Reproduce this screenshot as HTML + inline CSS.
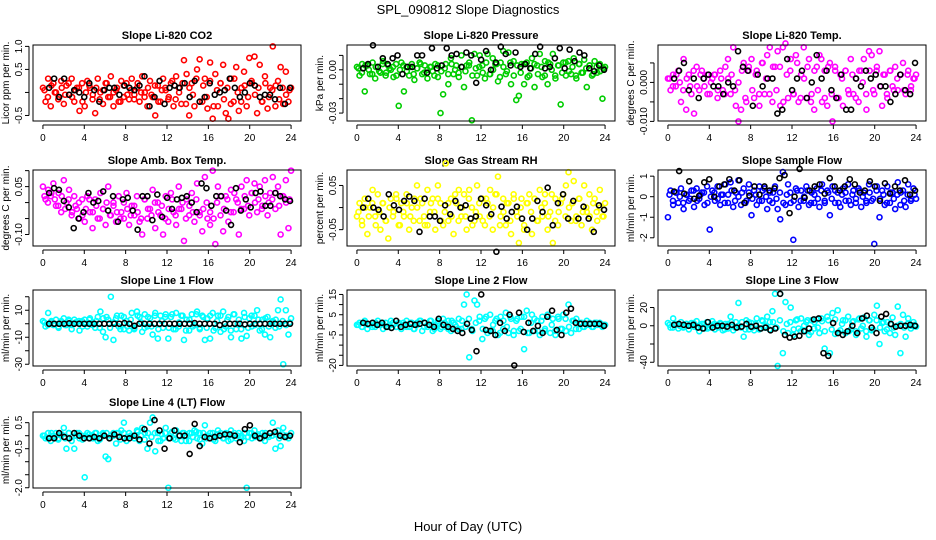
<!DOCTYPE html>
<html><head><meta charset="utf-8"><style>
html,body{margin:0;padding:0;background:#fff;}
svg{display:block;font-family:"Liberation Sans",sans-serif;}
</style></head><body>
<svg id="chart" width="936" height="540" viewBox="0 0 936 540">
<text x="468" y="14" font-size="13" text-anchor="middle">SPL_090812  Slope Diagnostics</text>
<text x="468" y="531" font-size="13" text-anchor="middle">Hour of Day (UTC)</text>
</svg>
<script>
const xTicks = [0,4,8,12,16,20,24];
const titles = ["Slope Li-820 CO2","Slope Li-820 Pressure","Slope Li-820 Temp.","Slope Amb. Box Temp.","Slope Gas Stream RH","Slope Sample Flow","Slope Line 1 Flow","Slope Line 2 Flow","Slope Line 3 Flow","Slope Line 4 (LT) Flow"];
const yLabels = ["Licor ppm per min.","kPa per min.","degrees C per min.","degrees C per min.","percent per min.","ml/min per min.","ml/min per min.","ml/min per min.","ml/min per min.","ml/min per min."];
const yTicks = [[-0.5,0,0.5,1.0],[-0.03,-0.02,-0.01,0,0.01],[-0.01,-0.005,0,0.005],[-0.1,-0.05,0,0.05,0.1],[-0.05,0,0.05],[-2,-1,0,1],[-30,-20,-10,0,10,20],[-20,-15,-10,-5,0,5,10,15],[-40,-20,0,20],[-2,-1.5,-1,-0.5,0,0.5]];
const yTickLabels = [["-0.5","","0.5","1.0"],["-0.03","","","0.00",""],["-0.010","","0.000",""],["-0.10","","","0.05",""],["-0.05","","0.05"],["-2","-1","0","1"],["-30","","-10","","10",""],["-20","","","-5","","5","","15"],["-40","","0","20"],["-2.0","","","-0.5","","0.5"]];
const yLims = [[-0.62,1.03],[-0.0355,0.0172],[-0.0099,0.0096],[-0.136,0.102],[-0.087,0.085],[-2.4,1.3],[-31.3,25],[-20.3,17.2],[-44.1,39.2],[-2.01,0.91]];
const colors = ["#ff0000","#00cd00","#ff00ff","#ff00ff","#ffff00","#0000ff","#00ffff","#00ffff","#00ffff","#00ffff"];

const co2 = [0.1,-0.2,0.3,-0.3,0.2,0,-0.1,0.25,-0.25,0.15,-0.05,0.3,-0.2,0.1,-0.4,0.2,-0.3,0.25,0.1,-0.15,-0.45,0.3,0,-0.25,0.2,-0.1,0.35,-0.3,0.05,-0.2,0.25,-0.1,0.2,-0.15,0.3,-0.05,0.1,-0.2,0.35,0,-0.3,0.25,-0.1,-0.5,0.15,-0.2,0.3,0.05,-0.15,0.2,-0.3,0.35,0.1,-0.25,0.7,0.4,-0.5,0.2,-0.3,0.5,0.72,-0.2,0.3,-0.35,0.65,-0.57,0.4,-0.3,0.2,0.6,-0.45,-0.57,0.3,-0.2,0.55,-0.4,0.1,0.45,-0.3,0.75,0.2,0.78,-0.45,0.6,-0.2,0.35,-0.35,0.1,1.0,-0.3,0.25,0.55,-0.25,0.45,-0.2,0.1];
const co2B = [0.05,-0.1,0.15,0,-0.15,0.1,-0.05,0.2,-0.1,0.05,0.1,-0.2,0,0.15,-0.05,0.1,-0.15,0.05,0.2,-0.1,0,0.1,-0.2,0.15,-0.05,0.05,-0.15,0.2,0,-0.1,0.1,-0.05,0.15,-0.2,0.05,0.1,-0.1,0.25,-0.15,0,0.2,-0.25,0.1,-0.05,0.3,-0.2,0.15,-0.1,0.25,-0.3,0.05,0.2,-0.15,0.1,-0.25,0.3,0,-0.2,0.15,-0.1,0.25,-0.05,0.1,-0.2,0.2,-0.1,0.05,0.15,-0.15,0.1,-0.05,0.05];
const co2Ref = [0.1,0.3,-0.1,0.3,-0.05,0.05,0,-0.1,0.2,0.05,-0.2,0.05,0.1,0.1,-0.05,0.15,0.1,0.05,0.15,0.35,-0.3,-0.1,0.25,-0.25,0.1,0.15,0.1,0.2,-0.1,0.25,-0.2,-0.1,0.2,-0.05,0,0.05,0.3,0.1,-0.1,0,0.2,0.15,-0.1,-0.05,-0.05,-0.15,0.1,-0.25,0.1];
const pres = [0.002,-0.004,0.004,-0.015,0.003,-0.003,0.005,-0.006,0.002,-0.002,0.006,-0.004,0.003,0,-0.005,0.004,-0.025,0.005,-0.015,0.002,-0.004,0.004,-0.007,0.001,0.005,-0.003,0.003,-0.006,0.002,-0.001,0.004,-0.005,-0.03,-0.017,0.004,-0.01,0.008,-0.003,0.003,-0.005,0.01,-0.012,0.003,0.005,-0.035,0.011,-0.004,0.01,0.003,-0.006,0.011,-0.003,0.008,0.004,-0.008,0.005,0.013,-0.003,0.012,-0.01,0.006,-0.021,-0.018,0.004,-0.01,0.005,-0.004,0.008,-0.012,0.003,0.011,-0.005,0.006,-0.01,0.004,0.011,-0.006,0.003,-0.024,0.005,-0.004,0.006,-0.003,0.008,-0.006,0.004,-0.002,0.007,-0.012,0.003,-0.004,0.006,-0.002,0.004,-0.02,0.002];
const presB = [0.001,-0.002,0.003,0,-0.003,0.002,-0.001,0.004,-0.002,0.001,0.002,-0.004,0,0.003,-0.001,0.002,-0.003,0.001,0.004,-0.002,0,0.002,-0.004,0.003,-0.001,0.001,-0.003,0.004,0,-0.002,0.002,-0.001,0.003,-0.004,0.001,0.002,-0.002,0.005,-0.003,0,0.004,-0.005,0.002,-0.001,0.005,-0.004,0.003,-0.002,0.004,-0.005,0.001,0.004,-0.003,0.002,-0.004,0.005,0,-0.004,0.003,-0.002,0.005,-0.001,0.002,-0.004,0.004,-0.002,0.001,0.003,-0.003,0.002,-0.001,0.001];
const presRef = [0.001,0.004,0.017,0.002,0.008,0.004,0.008,0.01,-0.003,0.002,0.002,0.01,0.01,-0.002,0.015,0.001,0.003,0.015,0.01,0.011,0.002,0.012,0.01,-0.009,0.007,0.013,0.0,0.005,0.016,0.011,0.003,0.012,0.002,0.004,0.001,0.011,0.016,0.001,0.002,0.008,0.015,0.001,0.014,0.006,0.012,0.01,0.001,-0.001,0.003,0.0];
const ltemp = [0.001,-0.002,0.002,-0.001,0.003,-0.005,0.006,-0.007,0.002,-0.003,-0.008,0.004,-0.002,0.003,-0.001,0.002,-0.003,0.001,0.002,-0.004,0.003,-0.002,0.004,0.006,-0.003,0.009,-0.006,-0.01,-0.007,0.005,-0.005,0.003,0.006,-0.004,0.003,-0.006,0.005,-0.003,0.007,0.009,-0.005,0.004,0.008,-0.006,0.009,0.01,-0.004,0.006,-0.003,0.007,-0.005,0.002,0.009,-0.004,0.006,-0.003,-0.007,0.004,0.007,-0.005,0.003,-0.006,0.005,-0.01,0.004,-0.004,0.002,-0.006,0.003,-0.002,0.006,-0.003,0.001,-0.005,0.003,0.006,-0.007,0.008,0.007,-0.003,0.004,0.008,-0.006,0.002,-0.004,0.003,-0.001,0.004,-0.002,0.002,0.005,-0.003,0.003,-0.002,0.001,0.002];
const ltempB = [0.001,-0.001,0.002,0,-0.002,0.001,-0.001,0.003,-0.001,0.002,0.001,-0.003,0,0.002,-0.002,0.001,-0.003,0.001,0.002,-0.002,0,0.003,-0.004,0.004,-0.002,0.002,-0.003,0.005,0.001,-0.003,0.004,-0.002,0.004,-0.005,0.002,0.003,-0.003,0.005,-0.004,0.001,0.004,-0.005,0.003,-0.002,0.006,-0.004,0.004,-0.003,0.003,-0.004,0.001,0.003,-0.003,0.002,-0.004,0.003,0,-0.003,0.003,-0.002,0.003,-0.001,0.002,-0.003,0.003,-0.002,0.001,0.002,-0.002,0.002,-0.001,0.001];
const ltempRef = [0.001,0.003,0.005,-0.002,0.001,-0.004,0.001,0.002,-0.001,-0.001,-0.003,0.0,-0.001,0.008,0.004,0.003,-0.006,0.002,-0.001,0.001,0.001,-0.008,-0.007,0.006,-0.002,0.001,0.003,-0.004,0.0,0.007,0.001,0.003,-0.002,-0.004,0.002,-0.007,-0.007,0.001,-0.001,0.003,0.001,0.002,-0.001,-0.001,-0.005,-0.003,0.002,-0.002,-0.003,0.005];
const amb = [0.05,0.01,0.04,0.02,0.06,-0.01,0.03,-0.03,0.07,0,0.04,-0.04,0.02,-0.02,-0.05,0.01,-0.06,0.02,-0.03,-0.08,0.01,-0.05,0.03,-0.02,-0.07,0.05,-0.04,0,-0.06,0.02,-0.03,-0.05,0.03,-0.07,-0.01,-0.04,0.02,-0.06,-0.1,0.01,-0.05,-0.02,0.04,-0.08,0,-0.04,-0.1,0.02,-0.06,0.03,-0.03,-0.07,0.05,-0.02,-0.12,0.01,-0.04,0.03,-0.06,0.06,-0.03,-0.09,0.08,-0.05,-0.07,0.1,-0.13,0.05,-0.04,-0.09,0.02,-0.06,0.04,-0.03,0.01,-0.1,0.05,-0.02,0.07,-0.04,0.03,0.06,-0.03,0.05,-0.01,0.07,-0.04,0.03,0.08,-0.02,0.05,-0.1,0.02,0.07,-0.08,0.1];
const ambB = [0.02,0,0.03,0.01,-0.01,0.02,-0.02,0.01,-0.03,-0.01,0,-0.04,-0.02,0.01,-0.03,-0.01,-0.05,-0.02,0,-0.04,-0.01,-0.03,-0.05,0,-0.02,-0.04,-0.01,-0.03,-0.05,0.01,-0.02,-0.04,0,-0.03,-0.01,-0.05,-0.02,0.01,-0.04,-0.02,0,-0.05,-0.01,-0.03,0.01,-0.04,-0.02,0,-0.03,-0.05,0,0.02,-0.02,0.01,-0.03,0.03,0,-0.02,0.02,-0.01,0.03,0,0.01,-0.02,0.02,0,0.01,0.03,-0.01,0.02,0,0.01];
const ambRef = [0.03,0.045,0.04,0.005,-0.015,-0.08,-0.05,-0.03,0.03,0,0.005,0.035,-0.025,0.02,-0.06,0.01,0.015,-0.025,-0.085,0.02,0.02,-0.055,0.025,-0.045,0.015,-0.02,0.01,0.015,0.02,0,-0.03,0.06,0.045,-0.01,0.02,0.02,-0.025,-0.07,0.045,-0.025,0.01,-0.015,0.03,0.035,-0.01,-0.01,0.03,0.02,0.01,0.005];
const rh = [-0.02,0.01,-0.04,0.02,-0.06,0,0.04,-0.02,0.03,-0.05,0.01,-0.03,-0.07,0.02,-0.01,0.03,-0.04,0.01,-0.02,0.03,-0.05,0,0.02,0.05,-0.03,0.01,-0.04,0.04,-0.01,0.02,-0.05,0.05,0.01,-0.04,0.1,-0.03,0.02,-0.06,0.01,0.04,-0.02,0.03,-0.05,0.04,0,-0.03,0.05,-0.02,0.02,-0.04,0.01,0.04,-0.05,0.03,0.07,-0.02,0.02,-0.04,0.01,-0.06,0.03,-0.01,-0.08,0.02,-0.05,0.01,0.03,-0.06,0.02,-0.03,0.04,-0.02,0.03,-0.05,-0.01,-0.08,0.02,-0.04,0.01,0.03,0.05,0.08,-0.03,0.06,-0.02,0.02,-0.04,0.05,-0.01,0.03,-0.05,0.02,-0.03,0.04,-0.02,0.01];
const rhB = [-0.01,-0.03,0,-0.02,0.01,-0.04,-0.01,0.01,-0.03,0,-0.02,0.02,-0.04,-0.01,0.01,-0.02,-0.03,0,0.02,-0.02,-0.04,0.01,-0.01,0.02,-0.03,-0.01,0.01,-0.02,0.03,-0.03,0,-0.02,0.02,-0.04,-0.01,0.01,-0.03,0.02,-0.02,0,0.03,-0.04,-0.01,0.01,-0.03,0.02,-0.02,0,-0.04,0.01,-0.01,0.02,-0.03,0,0.01,-0.02,0.03,-0.03,-0.01,0.02,-0.02,0,0.01,-0.03,0.02,-0.01,0,-0.02,0.01,-0.01,0,-0.02];
const rhRef = [0,0.02,0,-0.005,-0.02,0.03,0.005,-0.005,0.015,0.025,0.015,-0.055,0.02,-0.02,-0.02,-0.03,0.005,-0.015,0.015,0,0.005,-0.025,-0.02,0.02,0.005,-0.015,-0.1,0.002,-0.025,-0.01,0.002,-0.025,-0.05,-0.025,0.015,-0.01,0.045,-0.04,0.01,0.03,-0.025,0.015,-0.025,0.002,-0.025,-0.055,0.005,-0.005];
const sflow = [-1,0.3,-0.4,0.2,-0.3,0.4,-0.6,0.1,-0.2,0.3,-0.5,0.4,-0.1,0.2,-0.4,0.5,-1.6,0.3,-0.2,0.5,-0.4,0.1,0.6,-0.3,0.7,-0.5,0.2,0.8,-0.4,0.4,-0.2,0.6,-0.9,0.3,-0.4,0.5,-0.2,0.4,-0.6,0.2,-0.3,0.5,-0.6,-1.1,1.2,-0.4,0.6,-0.3,-2.1,0.4,-0.5,0.3,-0.2,0.5,-0.4,0.2,-0.3,0.4,-0.5,0.6,-0.2,0.3,-0.9,0.5,-0.3,0.2,-0.5,0.4,-0.2,0.6,-0.4,0.3,-0.1,0.4,-0.5,0.2,-0.3,0.6,-0.2,-2.3,0.5,-1.0,0.3,-0.4,0.5,-0.3,0.2,-0.6,0.7,-0.4,0.3,-0.5,0.6,-0.2,0.4,-0.1];
const sflowB = [0.1,-0.2,0.2,0,-0.3,0.1,-0.1,0.3,-0.2,0.1,0.2,-0.3,0,0.2,-0.1,0.1,-0.3,0.1,0.3,-0.2,0,0.2,-0.3,0.2,-0.1,0.1,-0.2,0.3,0,-0.2,0.2,-0.1,0.2,-0.3,0.1,0.2,-0.2,0.3,-0.2,0,0.3,-0.3,0.1,-0.1,0.3,-0.3,0.2,-0.1,0.3,-0.3,0.1,0.2,-0.2,0.1,-0.3,0.3,0,-0.2,0.2,-0.1,0.3,-0.1,0.1,-0.3,0.2,-0.1,0.1,0.2,-0.2,0.1,-0.1,0.1];
const sflowRef = [0.25,1.25,0.15,0.75,-0.1,0.05,0.7,0.85,0,0.5,0.6,0.85,0.3,0.8,-0.3,0.05,0.5,0.1,0.5,0.3,0.4,0.9,1.05,-0.8,0,1.35,-0.05,0.3,0.5,0.6,0.15,0.9,0.5,0.3,0.5,0.85,0.6,0.2,0.3,0.75,0.5,-0.2,0.65,0.15,0.5,0.3,0.8,0.1,0.3];
const line1 = [2,-2,8,1,-1,3,-3,2,4,-1,2,-4,3,1,-5,2,3,-2,4,1,-3,5,9,-6,-10,3,20,-12,4,-2,6,-4,2,-5,8,-3,9,5,-6,7,-2,4,-8,8,-11,6,-3,7,-11,5,-4,8,-2,6,-12,3,-5,7,-1,9,-3,6,-12,4,-11,8,-3,6,-6,9,-2,5,-10,7,-4,3,-11,8,-9,4,-2,6,10,-5,3,-8,5,-10,2,-3,10,18,-30,10,-8,4];
const line1B = [1,-1,2,0,-2,1,-1,3,-1,1,2,-2,0,3,-1,2,-3,4,5,-3,1,6,-4,5,-2,3,-4,6,1,-3,5,-2,6,-4,2,5,-3,7,-4,1,6,-5,3,-2,7,-4,5,-3,6,-5,2,6,-4,3,-5,7,0,-4,5,-3,6,-1,3,-4,4,-2,1,3,-2,2,-1,1];
const line1Ref = [0,0,0,0,0.3,0,0,0,0,0,0,0,0,0,0,0.5,0,-1.5,0,0,0,0,0,0,0,0,0,0,0,0.5,0,0,0,0,-1,0,0,0,0,-0.5,0,0,0,0,0,0,0,0,0];
const line2 = [0,1,-1,2,-2,0,1,-1,2,0,-2,1,-1,2,0,-1,1,-2,0,2,-1,1,-2,0,2,-3,1,-1,2,-3,0,1,-2,3,-1,2,-3,1,-1,3,-2,10,15,-16,-2,12,10,4,-7,3,-4,5,-3,2,-5,4,-2,6,-4,3,-5,2,-3,4,-12,7,-4,5,-3,2,-5,4,-2,5,-4,3,-5,4,-2,5,-3,10,-4,2,3,-2,1,-1,2,0,-1,1,0,1,-1,0];
const line2B = [0,-1,1,0,-1,1,0,1,-1,0,1,-1,0,1,-1,1,-2,1,2,-1,0,2,-2,2,-1,1,-2,2,0,-2,2,-1,3,-3,1,2,-2,4,-3,0,3,-4,2,-1,4,-3,3,-2,4,-4,1,3,-3,2,-3,4,0,-3,3,-2,3,-1,2,-2,1,-1,0,1,-1,1,0,0];
const line2Ref = [1,0.5,1,0,1,-1,-1.5,2,-1,0,0.5,0,0.5,1,0,-1,3,0,-1,-2,-3,-4,0.5,-2.5,-13,15,-2.5,-3,-5,1,-3,5,-20,6,-3.5,1,-3,-0.5,-4,4,7,-2.5,-5,6,8,1,0.5,0.5,0.5,0.5,0.5,-0.5];
const line3 = [3,-2,8,1,-3,4,-1,2,-4,3,-1,5,-6,2,-3,4,-2,5,-4,1,3,-5,2,-3,10,-5,4,25,-2,-12,6,-4,3,-5,8,-3,6,-2,10,4,16,35,-44,35,-30,26,-8,20,-10,6,-3,8,-5,4,-10,6,-3,7,-8,5,-25,10,-30,14,-9,17,-5,6,-8,10,-4,5,-10,7,-3,9,-12,6,-5,12,22,-20,3,-6,4,-8,9,-10,21,-30,12,-12,8,-3,4,-1];
const line3B = [1,-2,2,0,-2,2,0,3,-2,0,2,-3,0,2,-2,2,-4,2,4,-2,0,4,-4,4,-2,2,-4,5,0,-4,4,-2,6,-6,2,4,-4,7,-6,0,6,-7,4,-2,8,-6,6,-4,7,-7,2,6,-6,4,-6,8,0,-6,6,-4,6,-2,4,-4,2,-2,0,2,-2,2,0,1];
const line3Ref = [1,2,1,0,1,-2,-3,4,-2,0,0,-1,1,-2,-1,2,-1,0,-3,-2,-5,-3,35,-10,-13,-12,-11,-6,-3,7,8,-30,-33,3,-8,-10,-6,0,-8,8,11,-2,-8,10,13,2,-1,0,0,1,0];
const line4 = [0,-0.1,0.1,-0.2,0,0.1,-0.1,0,0.3,-0.5,0.1,-0.2,-0.5,0.1,-0.1,0,-1.6,0.1,-0.1,0,0.1,-0.2,-0.1,0.1,-0.8,-0.9,0,0.1,-0.3,0.1,0.2,0.5,-0.2,0.1,0,-0.1,0.2,-0.2,0.3,0.1,-0.5,0.5,0.7,-0.6,0.1,-0.2,-0.1,0.3,-2.0,0.1,-0.1,0.2,0,-0.2,0.1,0,-0.2,0.1,0.2,-0.1,0.1,-0.3,0.4,0,-0.1,0.1,-0.2,0.2,0,-0.1,0.1,-0.2,0.2,0,-0.1,0.1,0,-0.2,-2.0,0.1,-0.1,0.2,0,-0.1,0.1,-0.2,0,0.1,0.5,-0.5,0.2,-0.4,0.3,0,-0.1,0.1];
const line4B = [0,-0.1,0.1,-0.05,-0.15,0.05,-0.1,0.1,-0.05,0,0.1,-0.15,0,0.05,-0.1,0.1,-0.15,0.05,0.1,-0.1,0,0.1,-0.15,0.1,-0.05,0,-0.1,0.15,0,-0.15,0.1,-0.05,0.1,-0.2,0.05,0.1,-0.1,0.15,-0.15,0,0.1,-0.2,0.1,-0.05,0.15,-0.15,0.1,-0.1,0.1,-0.15,0.05,0.1,-0.1,0.05,-0.15,0.1,0,-0.1,0.1,-0.05,0.1,-0.05,0.05,-0.1,0.1,-0.05,0,0.05,-0.1,0.05,-0.05,0];
const line4Ref = [-0.1,-0.1,0.1,-0.05,-0.1,0.1,0,-0.1,-0.1,-0.05,-0.1,0,-0.1,0.05,-0.05,-0.1,-0.1,0,-0.15,0.25,-0.3,0.6,0.2,-0.5,-0.1,0.2,0,0,-0.7,0.45,-0.4,-0.05,-0.1,-0.05,0,0.05,0.05,0,-0.25,0.25,0.4,0,-0.1,0,0.1,0.15,0,-0.05,0];

const series = [co2,pres,ltemp,amb,rh,sflow,line1,line2,line3,line4];
const seriesB = [co2B,presB,ltempB,ambB,rhB,sflowB,line1B,line2B,line3B,line4B];
const refs = [co2Ref,presRef,ltempRef,ambRef,rhRef,sflowRef,line1Ref,line2Ref,line3Ref,line4Ref];
const names = ["co2","pressure","li-temp","amb-box-temp","gas-rh","sample-flow","line1-flow","line2-flow","line3-flow","line4-flow"];

const NS = "http://www.w3.org/2000/svg";
const svg = document.getElementById("chart");
const colLeft = [33,347,658], boxW = 268, rowTop = [45,170,290,412], boxH = 76;
function mk(tag, attrs, parent){const e=document.createElementNS(NS,tag);for(const k in attrs)e.setAttribute(k,attrs[k]);parent.appendChild(e);return e;}

for(let p=0;p<10;p++){
  const L = colLeft[p%3], T = rowTop[Math.floor(p/3)];
  const g = mk("g",{},svg);
  
  
  const xs = h => L + (h+0.96)/25.92*boxW;
  const [y0,y1] = yLims[p];
  const ys = v => T + boxH - (v-y0)/(y1-y0)*boxH;
  const t = mk("text",{x:L+boxW/2,y:T-6,"font-size":"11","font-weight":"bold","text-anchor":"middle"},g);
  t.textContent = titles[p];
  
  
  const yl = mk("text",{x:0,y:0,"font-size":"10","text-anchor":"middle",transform:`translate(${L-24},${T+boxH/2}) rotate(-90)`},g);
  yl.textContent = yLabels[p];
  
  
  const colB = seriesB[p], nb = colB.length;
  colB.forEach((v,i)=>{
    const c = mk("circle",{cx:xs(0.15+i*23.7/(nb-1)),cy:ys(v),r:2.5,fill:"none",stroke:colors[p],"stroke-width":1.6},g);
    
    
  });
  const col = series[p], n = col.length;
  col.forEach((v,i)=>{
    const c = mk("circle",{cx:xs(i*24/(n-1)),cy:ys(v),r:2.5,fill:"none",stroke:colors[p],"stroke-width":1.6},g);
    
    
  });
  const rf = refs[p], m = rf.length;
  rf.forEach((v,i)=>{
    const c = mk("circle",{cx:xs(0.6+i*23.3/(m-1)),cy:ys(v),r:2.5,fill:"none",stroke:"#000","stroke-width":1.6},g);
    
    
  });
  const box = mk("rect",{x:L,y:T,width:boxW,height:boxH,fill:"none",stroke:"#000","stroke-width":1},g);
  
  
  mk("line",{x1:xs(0),x2:xs(24),y1:T+boxH+4,y2:T+boxH+4,stroke:"#000"},g);
  xTicks.forEach(h=>{
    mk("line",{x1:xs(h),x2:xs(h),y1:T+boxH+4,y2:T+boxH+8,stroke:"#000"},g);
    const tl = mk("text",{x:xs(h),y:T+boxH+20,"font-size":"10","text-anchor":"middle"},g);
    tl.textContent = h;
    
    
  });
  const tk = yTicks[p];
  mk("line",{x1:L-4,x2:L-4,y1:ys(tk[0]),y2:ys(tk[tk.length-1]),stroke:"#000"},g);
  tk.forEach((v,i)=>{
    mk("line",{x1:L-8,x2:L-4,y1:ys(v),y2:ys(v),stroke:"#000"},g);
    const lab = yTickLabels[p][i];
    if(lab){
      const tl = mk("text",{x:0,y:0,"font-size":"10","text-anchor":"middle",transform:`translate(${L-11},${ys(v)}) rotate(-90)`},g);
      tl.textContent = lab;
      
      
    }
  });
}
</script>
</body></html>
